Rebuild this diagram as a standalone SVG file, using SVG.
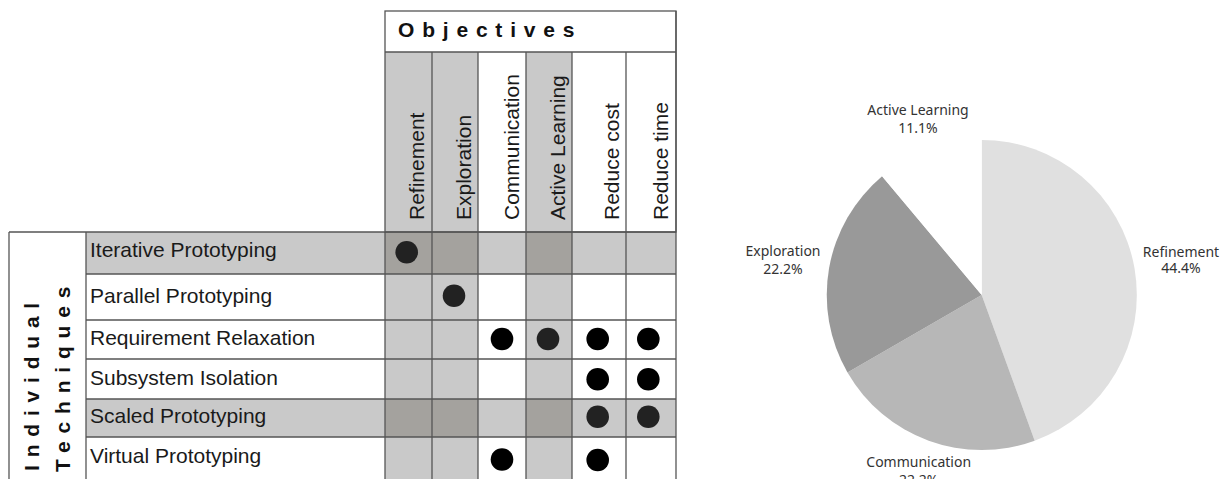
<svg xmlns="http://www.w3.org/2000/svg" width="1228" height="479" viewBox="0 0 1228 479">
<style>
.grid{stroke:#555;stroke-width:1.3;fill:none}
.lg{fill:#c9c9c9}
.dg{fill:#a4a29e}
.wh{fill:#fff}
.hdr{font-family:"Liberation Sans",Arial,sans-serif;font-size:21px;fill:#1a1a1a}
.row{font-family:"Liberation Sans",Arial,sans-serif;font-size:21px;fill:#1a1a1a}
.big{font-family:"Liberation Sans",Arial,sans-serif;font-size:21px;font-weight:bold;letter-spacing:7.8px;fill:#111}
.dot{fill:#000}
.dot2{fill:#222}
.pl{font-family:"Noto Sans",sans-serif;font-size:14px;fill:#333;text-anchor:middle}
</style>
<rect width="1228" height="479" fill="#fff"/>
<g id="matrix">
  <!-- header -->
  <g id="objectives-header">
    <rect x="385" y="11" width="291" height="41" class="wh"/>
    <text x="398" y="36.7" class="big">Objectives</text>
  </g>
  <g id="column-headers">
    <rect x="385" y="52" width="47" height="180" class="lg"/>
    <rect x="432" y="52" width="46" height="180" class="lg"/>
    <rect x="526" y="52" width="46" height="180" class="lg"/>
    <text class="hdr" transform="translate(424,220) rotate(-90)">Refinement</text>
    <text class="hdr" transform="translate(471,220) rotate(-90)">Exploration</text>
    <text class="hdr" transform="translate(519,220) rotate(-90)">Communication</text>
    <text class="hdr" transform="translate(565,220) rotate(-90)">Active Learning</text>
    <text class="hdr" transform="translate(619,220) rotate(-90)">Reduce cost</text>
    <text class="hdr" transform="translate(668,220) rotate(-90)">Reduce time</text>
  </g>
  <g id="cells">
    <!-- row label fills -->
    <rect x="86" y="232" width="299" height="42" class="lg"/>
    <rect x="86" y="399" width="299" height="38" class="lg"/>
    <!-- gray columns in body -->
    <rect x="385" y="232" width="93" height="247" class="lg"/>
    <rect x="526" y="232" width="46" height="247" class="lg"/>
    <!-- gray rows in body -->
    <rect x="478" y="232" width="48" height="42" class="lg"/>
    <rect x="572" y="232" width="104" height="42" class="lg"/>
    <rect x="478" y="399" width="48" height="38" class="lg"/>
    <rect x="572" y="399" width="104" height="38" class="lg"/>
    <!-- intersections -->
    <rect x="385" y="232" width="93" height="42" class="dg"/>
    <rect x="526" y="232" width="46" height="42" class="dg"/>
    <rect x="385" y="399" width="93" height="38" class="dg"/>
    <rect x="526" y="399" width="46" height="38" class="dg"/>
  </g>
  <g id="grid" class="grid">
    <rect x="385" y="11" width="291" height="221"/>
    <line x1="385" y1="52" x2="676" y2="52"/>
    <line x1="432" y1="52" x2="432" y2="479"/>
    <line x1="478" y1="52" x2="478" y2="479"/>
    <line x1="526" y1="52" x2="526" y2="479"/>
    <line x1="572" y1="52" x2="572" y2="479"/>
    <line x1="626" y1="52" x2="626" y2="479"/>
    <line x1="676" y1="11" x2="676" y2="479"/>
    <line x1="385" y1="232" x2="385" y2="479"/>
    <line x1="9" y1="232" x2="676" y2="232"/>
    <line x1="9" y1="232" x2="9" y2="479"/>
    <line x1="86" y1="232" x2="86" y2="479"/>
    <line x1="86" y1="274" x2="676" y2="274"/>
    <line x1="86" y1="320" x2="676" y2="320"/>
    <line x1="86" y1="359" x2="676" y2="359"/>
    <line x1="86" y1="399" x2="676" y2="399"/>
    <line x1="86" y1="437" x2="676" y2="437"/>
  </g>
  <g id="row-labels">
    <text class="big" transform="translate(39,471) rotate(-90)">Individual</text>
    <text class="big" transform="translate(70,472) rotate(-90)">Techniques</text>
    <text x="90" y="256.7" class="row">Iterative Prototyping</text>
    <text x="90" y="303" class="row">Parallel Prototyping</text>
    <text x="90" y="345" class="row">Requirement Relaxation</text>
    <text x="90" y="385" class="row">Subsystem Isolation</text>
    <text x="90" y="422.5" class="row">Scaled Prototyping</text>
    <text x="90" y="463" class="row">Virtual Prototyping</text>
  </g>
  <g id="dots">
    <circle cx="406.7" cy="252.3" r="11.3" class="dot2"/>
    <circle cx="454" cy="295.7" r="11.3" class="dot2"/>
    <circle cx="502" cy="339" r="11.3" class="dot"/>
    <circle cx="548" cy="339" r="11.3" class="dot2"/>
    <circle cx="597.7" cy="339" r="11.3" class="dot"/>
    <circle cx="648.3" cy="339" r="11.3" class="dot"/>
    <circle cx="597.7" cy="379.3" r="11.3" class="dot"/>
    <circle cx="648.3" cy="379.3" r="11.3" class="dot"/>
    <circle cx="597.7" cy="416.7" r="11.3" class="dot2"/>
    <circle cx="648.3" cy="416.7" r="11.3" class="dot2"/>
    <circle cx="502" cy="459.5" r="11.3" class="dot"/>
    <circle cx="597.7" cy="460" r="11.3" class="dot"/>
  </g>
</g>
<g id="pie">
  <g id="slice-refinement">
    <path d="M981.7 295 L981.7 140 A155 155 0 0 1 1034.7 440.7 Z" fill="#e0e0e0"/>
    <text x="1181" y="256.7" class="pl">Refinement</text>
    <text x="1181" y="273" class="pl">44.4%</text>
  </g>
  <g id="slice-communication">
    <path d="M981.7 295 L1034.7 440.7 A155 155 0 0 1 847.5 372.5 Z" fill="#b7b7b7"/>
    <text x="918.7" y="466.7" class="pl">Communication</text>
    <text x="918.7" y="484.5" class="pl">22.2%</text>
  </g>
  <g id="slice-exploration">
    <path d="M981.7 295 L847.5 372.5 A155 155 0 0 1 882.1 176.3 Z" fill="#999999"/>
    <text x="783" y="255.7" class="pl">Exploration</text>
    <text x="783" y="274" class="pl">22.2%</text>
  </g>
  <g id="slice-active-learning">
    <path d="M981.7 295 L882.1 176.3 A155 155 0 0 1 981.7 140 Z" fill="#fff"/>
    <text x="918" y="115" class="pl">Active Learning</text>
    <text x="918" y="133.3" class="pl">11.1%</text>
  </g>
</g>
</svg>
